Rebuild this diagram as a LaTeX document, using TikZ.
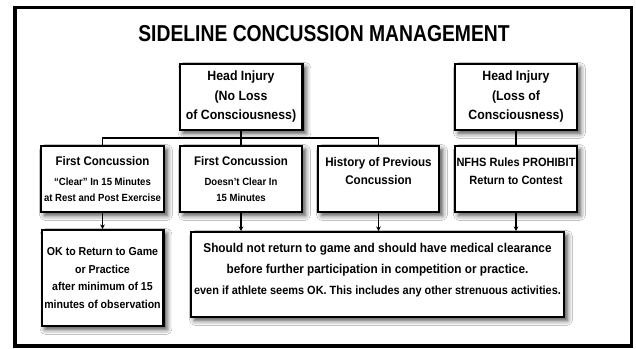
\documentclass[tikz,border=0pt]{standalone}
\usepackage{fontspec}
\setmainfont{Liberation Sans}[FakeStretch=0.92]
\newfontfamily\headfont{Liberation Sans}[FakeStretch=0.84]
\usetikzlibrary{arrows.meta,shadows.blur}

\begin{document}
\begin{tikzpicture}[x=1pt,y=-1pt,
  card/.style={draw,line width=2.4pt,fill=white,align=center,inner sep=1pt,
    blur shadow={shadow xshift=3.5pt,shadow yshift=-3.5pt,shadow blur radius=5pt,shadow opacity=75}},
  link/.style={line width=1.2pt},
  drop/.style={line width=1.2pt,-{Stealth[length=4.5pt,width=4.5pt]}}]
\path[use as bounding box,fill=white] (0,0) rectangle (636,348);
\draw[line width=3.5pt] (15,7.5) rectangle (631.5,346);
\node[font=\headfont\bfseries\fontsize{23}{26}\selectfont] (title) at (324,33.5) {SIDELINE CONCUSSION MANAGEMENT};

% top row
\node[card,minimum width=122.6pt,minimum height=65.6pt,font=\bfseries\fontsize{13.4}{19.5}\selectfont] (headnoloss) at (241,97) {Head Injury\\(No Loss\\of Consciousness)};
\node[card,minimum width=121.6pt,minimum height=65.6pt,font=\bfseries\fontsize{13.4}{19.5}\selectfont] (headloss) at (516,97) {Head Injury\\(Loss of\\Consciousness)};

% middle row
\node[card,minimum width=122.6pt,minimum height=65.6pt,font=\bfseries\fontsize{10.4}{15.5}\selectfont] (firstclear) at (102.5,179) {{\fontsize{12.5}{15.5}\selectfont First Concussion}\\[5pt]``Clear'' In 15 Minutes\\at Rest and Post Exercise};
\node[card,minimum width=121.6pt,minimum height=65.6pt,font=\bfseries\fontsize{10.4}{15.5}\selectfont] (firstnotclear) at (241,179) {{\fontsize{12.5}{15.5}\selectfont First Concussion}\\[5pt]Doesn't Clear In\\15 Minutes};
\node[card,minimum width=120.6pt,minimum height=65.6pt,font=\bfseries\fontsize{12.6}{18}\selectfont] (history) at (378.5,179) {History of Previous\\Concussion\\[-2pt]\mbox{}};
\node[card,minimum width=121.6pt,minimum height=65.6pt,font=\bfseries\fontsize{12}{18}\selectfont] (rules) at (516,179) {NFHS Rules PROHIBIT\\Return to Contest\\[-2pt]\mbox{}};

% bottom row
\node[card,minimum width=121.6pt,minimum height=95.6pt,font=\bfseries\fontsize{11.5}{17.5}\selectfont] (okreturn) at (102.5,278) {OK to Return to Game\\or Practice\\after minimum of 15\\minutes of observation};
\node[card,minimum width=372.6pt,minimum height=84.6pt,font=\bfseries\fontsize{12.8}{21}\selectfont] (noreturn) at (377.5,274.5) {Should not return to game and should have medical clearance\\before further participation in competition or practice.\\{\fontsize{11.9}{21}\selectfont even if athlete seems OK. This includes any other strenuous activities.}\\[-10pt]\mbox{}};

% connectors
\draw[link] (firstclear.north) -- ++(0,-7) -| (history.north);
\draw[link] (headnoloss.south) -- (firstnotclear.north);
\draw[link] (headloss.south) -- (rules.north);
\draw[drop] (firstclear.south) -- (okreturn.north);
\draw[drop] (firstnotclear.south) -- (firstnotclear.south |- noreturn.north);
\draw[drop] (history.south) -- (history.south |- noreturn.north);
\draw[drop] (rules.south) -- (rules.south |- noreturn.north);
\end{tikzpicture}
\end{document}
